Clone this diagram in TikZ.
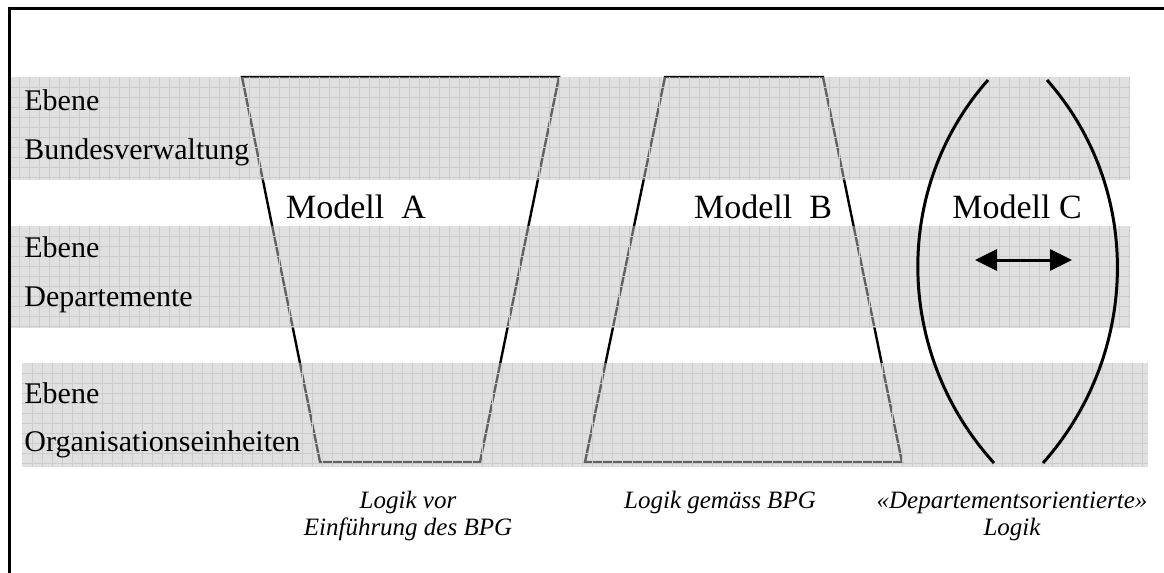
\documentclass[tikz,border=0pt]{standalone}
\usepackage{fontspec}
\setmainfont{Liberation Serif}
\usetikzlibrary{arrows.meta}
\definecolor{bandgray}{gray}{0.76}
\definecolor{gridgray}{gray}{0.80}
\begin{document}
\begin{tikzpicture}[x=0.5pt,y=-0.5pt,
  bandfill/.style={fill=bandgray, fill opacity=0.5, draw=none},
  gridln/.style={draw=gridgray, line width=0.45pt},
  trap/.style={draw=black, line width=1.2pt, line join=miter},
  lens/.style={draw=black, line width=1.5pt},
  frame/.style={draw=black, line width=1.5pt},
  lvl/.style={anchor=base west, inner sep=0pt, font=\fontsize{15}{18}\selectfont},
  mdl/.style={anchor=base, inner sep=0pt, font=\fontsize{17}{20}\selectfont},
  captxt/.style={anchor=base, inner sep=0pt, font=\fontsize{12.5}{15}\selectfont\itshape},
  dblarrow/.style={line width=1.5pt, {Triangle[length=11pt,width=10.5pt]}-{Triangle[length=11pt,width=10.5pt]}}
]
\useasboundingbox (0,0) rectangle (1164,573);
\fill[white] (0,0) rectangle (1164,573);

% trapezoids (drawn below the band overlay so they appear grey inside the bands)
\draw[trap] (242,77) -- (559,77) -- (480,462) -- (320,462) -- cycle;
\draw[trap] (665,77) -- (823,77) -- (902,462) -- (585,462) -- cycle;

% bands
\fill[bandfill] (9,77) rectangle (1130,180);
\fill[bandfill] (9,226) rectangle (1129,328);
\fill[bandfill] (22,363) rectangle (1148,467);

% grid texture
\foreach \gx in {19,29,...,1129} {\draw[gridln] (\gx,77) -- (\gx,180);}
\foreach \gy in {87,97,...,177} {\draw[gridln] (9,\gy) -- (1130,\gy);}
\foreach \gx in {19,29,...,1129} {\draw[gridln] (\gx,226) -- (\gx,328);}
\foreach \gy in {236,246,...,326} {\draw[gridln] (9,\gy) -- (1129,\gy);}
\foreach \gx in {32,42,...,1142} {\draw[gridln] (\gx,363) -- (\gx,467);}
\foreach \gy in {373,383,...,463} {\draw[gridln] (22,\gy) -- (1148,\gy);}

% frame
\draw[frame] (1164,8) -- (9,8) -- (9,573);

% Modell C lens
\draw[lens] (988,80) .. controls (891,190) and (896,355) .. (994,463);
\draw[lens] (1047,80) .. controls (1144,190) and (1139,355) .. (1043,463);
\coordinate (al) at (975,260);
\coordinate (ar) at (1072,260);
\draw[dblarrow] (al) -- (ar);

% level labels
\node[lvl] (l1a) at (24,110) {Ebene};
\node[lvl] (l1b) at (24,159) {Bundesverwaltung};
\node[lvl] (l2a) at (24,257) {Ebene};
\node[lvl] (l2b) at (24,306) {Departemente};
\node[lvl] (l3a) at (24,403) {Ebene};
\node[lvl] (l3b) at (24,451) {Organisationseinheiten};

% model labels
\node[mdl] (ma) at (356,218) {Modell~~A};
\node[mdl] (mb) at (763,218) {Modell~~B};
\node[mdl] (mc) at (1017,218) {Modell C};

% captions
\node[captxt] (c1a) at (408,508) {Logik vor};
\node[captxt] (c1b) at (408,535) {Einführung des BPG};
\node[captxt] (c2) at (720,508) {Logik gemäss BPG};
\node[captxt] (c3a) at (1012,508) {«Departementsorientierte»};
\node[captxt] (c3b) at (1012,535) {Logik};
\end{tikzpicture}
\end{document}
